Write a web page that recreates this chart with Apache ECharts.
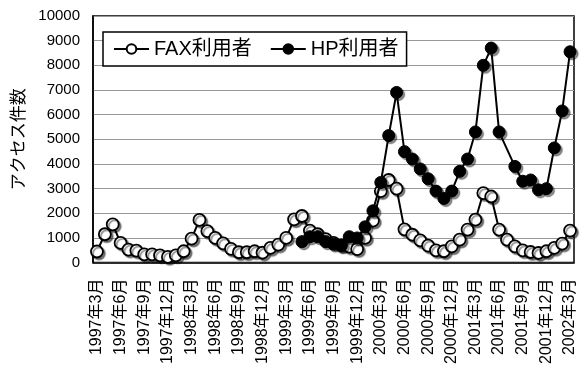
<!DOCTYPE html>
<html>
<head>
<meta charset="utf-8">
<script src="https://cdn.jsdelivr.net/npm/echarts@6/dist/echarts.min.js"></script>
<style>
  html, body { margin: 0; padding: 0; background: #fff; }
  #chart { width: 584px; height: 367px; }
</style>
</head>
<body>
<div id="chart"></div>
<script>
// Monthly access counts, March 1997 – March 2002
const months = [];
for (let y = 1997; y <= 2002; y++) {
  for (let m = 1; m <= 12; m++) {
    if ((y === 1997 && m < 3) || (y === 2002 && m > 3)) continue;
    months.push(y + '年' + m + '月');
  }
}

const faxUsers = [
  450, 1150, 1550, 800, 530, 490, 330, 330, 290, 230, 290, 460,
  970, 1730, 1280, 1000, 780, 560, 420, 420, 460, 400, 600, 730,
  1000, 1750, 1890, 1300, 1150, 950, 800, 700, 650, 550, 1000, 1700,
  2900, 3350, 3000, 1350, 1130, 900, 690, 500, 460, 660, 930, 1340,
  1740, 2820, 2680, 1340, 930, 660, 500, 430, 390, 460, 600, 770,
  1300
];

const hpUsers = [
  null, null, null, null, null, null, null, null, null, null, null, null,
  null, null, null, null, null, null, null, null, null, null, null, null,
  null, null, 850, 1050, 1050, 850, 750, 700, 1050, 1000, 1450, 2100,
  3250, 5150, 6900, 4500, 4200, 3800, 3400, 2900, 2600, 2900, 3700, 4200,
  5300, 8000, 8700, 5300, null, 3900, 3300, 3350, 2950, 3000, 4650, 6150,
  8550
];

const seriesNames = ['FAX利用者', 'HP利用者'];
const yAxisName = 'アクセス件数';

const latin = '"Liberation Sans", "Noto Sans CJK JP", sans-serif';

const markerShadow = {
  shadowColor: 'rgba(0,0,0,0.45)',
  shadowBlur: 1,
  shadowOffsetX: 2,
  shadowOffsetY: 2
};

const chart = echarts.init(document.getElementById('chart'), null, { renderer: 'canvas' });

chart.setOption({
  animation: false,
  backgroundColor: '#fff',
  grid: {
    left: 93, right: 10, top: 16, bottom: 104,
    show: true, borderColor: '#000', borderWidth: 1.5, backgroundColor: '#fff'
  },
  legend: {
    left: 103, top: 32,
    padding: [7, 8, 7, 10],
    itemGap: 18,
    itemWidth: 35,
    itemHeight: 12,
    borderColor: '#000',
    borderWidth: 1.5,
    backgroundColor: '#fff',
    textStyle: { fontFamily: latin, fontSize: 20, color: '#000' },
    data: seriesNames
  },
  xAxis: {
    type: 'category',
    data: months,
    boundaryGap: true,
    axisLine: { lineStyle: { color: '#000', width: 1.5 } },
    axisTick: { interval: 2, inside: true, length: 5, lineStyle: { color: '#000' } },
    axisLabel: {
      interval: 2,
      rotate: 90,
      margin: 16,
      padding: [0, 0, 7, 0],
      fontFamily: latin,
      fontSize: 16,
      color: '#000'
    },
    splitLine: { show: false }
  },
  yAxis: {
    type: 'value',
    min: 0, max: 10000, interval: 1000,
    name: yAxisName,
    nameLocation: 'middle',
    nameRotate: 90,
    nameGap: 59,
    nameTextStyle: { fontFamily: latin, fontSize: 17, color: '#000' },
    axisLine: { show: true, lineStyle: { color: '#000', width: 1.5 } },
    axisTick: { show: false },
    axisLabel: {
      margin: 13,
      fontFamily: latin,
      fontSize: 15,
      color: '#000',
      formatter: function (v) { return String(v); }
    },
    splitLine: { lineStyle: { color: '#999', width: 1 } }
  },
  series: [
    {
      name: seriesNames[0],
      type: 'line',
      data: faxUsers,
      symbol: 'circle',
      symbolSize: 12,
      showAllSymbol: true,
      lineStyle: { color: '#000', width: 2 },
      itemStyle: Object.assign({ color: '#fff', borderColor: '#000', borderWidth: 1.8 }, markerShadow),
      z: 2
    },
    {
      name: seriesNames[1],
      type: 'line',
      data: hpUsers,
      connectNulls: true,
      symbol: 'circle',
      symbolSize: 12,
      showAllSymbol: true,
      lineStyle: { color: '#000', width: 2 },
      itemStyle: Object.assign({ color: '#000', borderColor: '#000', borderWidth: 1 }, markerShadow),
      z: 3
    }
  ]
});
</script>
</body>
</html>
